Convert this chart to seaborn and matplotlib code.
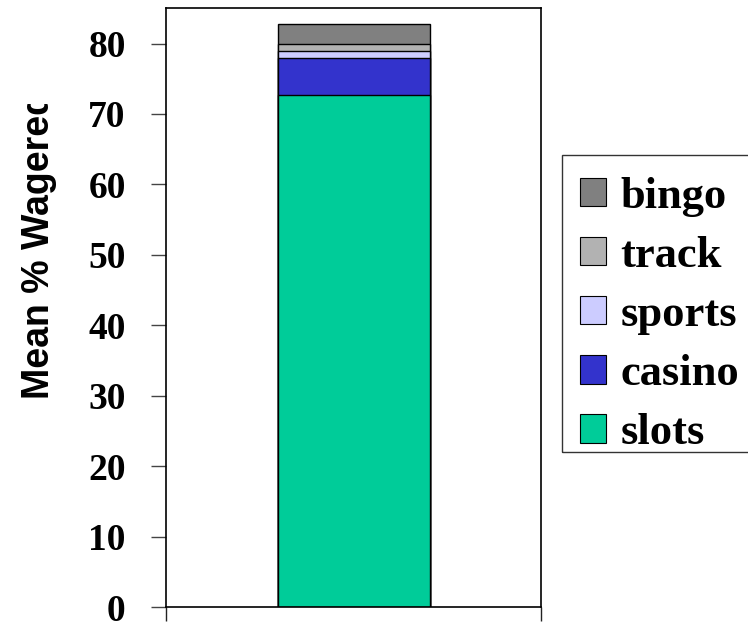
import matplotlib
matplotlib.use("Agg")
import matplotlib.pyplot as plt
import matplotlib.patches as mpatches
from matplotlib.transforms import Bbox, TransformedBbox
import numpy as np
import pandas as pd
import seaborn as sns

# Mean % wagered by gambling type
categories = ["slots", "casino", "sports", "track", "bingo"]
values = [72.7, 5.2, 1.0, 1.0, 2.9]
colors = ["#00cc99", "#3333cc", "#ccccff", "#b2b2b2", "#808080"]
yticks = [0, 10, 20, 30, 40, 50, 60, 70, 80]

sns.set_style("white")

fig = plt.figure(figsize=(7.48, 6.28), dpi=100)
ax = fig.add_axes([0.2219, 0.0334, 0.5020, 0.9534])

# stacked bar: draw cumulative totals from the top down so each layer shows
cum = np.cumsum(values)
for i in reversed(range(len(categories))):
    df = pd.DataFrame({"group": ["all"], "total": [cum[i]]})
    sns.barplot(data=df, x="group", y="total", color=colors[i], width=0.405,
                edgecolor="black", linewidth=1.0, saturation=1, ax=ax)

ax.set_xlim(-0.5, 0.5)
ax.set_ylim(0, 85)
ax.set_xticks([-0.5, 0.5])
ax.set_xticklabels(["", ""])
ax.set_xlabel("")
ax.set_yticks(yticks)
ax.set_yticklabels([str(t) for t in yticks], fontfamily="Liberation Serif",
                   fontweight="bold", fontsize=27, color="black")
ax.tick_params(axis="y", direction="out", length=11, width=1.0, color="#444444",
               pad=18, left=True)
ax.tick_params(axis="x", direction="out", length=10, width=1.0, color="#222222",
               bottom=True)
for s in ax.spines.values():
    s.set_visible(True)
    s.set_color("black")
    s.set_linewidth(1.2)

ylab = ax.set_ylabel("Mean % Wagered", fontfamily="Liberation Sans",
                     fontweight="bold", fontsize=27, color="black")
ax.yaxis.set_label_coords(-0.29, 0.603)
# the original label box cuts off the end of the text
ylab.set_clip_box(TransformedBbox(Bbox([[0, 0], [0.2, 1 - 104 / 628]]),
                                  fig.transFigure))
ylab.set_clip_on(True)

handles = [mpatches.Patch(facecolor=colors[i], edgecolor="black", linewidth=0.8,
                          label=categories[i])
           for i in reversed(range(len(categories)))]
leg = fig.legend(handles=handles, loc="upper left", bbox_to_anchor=(0.7513, 0.7468),
                 prop={"family": "Liberation Serif", "weight": "bold", "size": 32},
                 frameon=False, handlelength=0.6, handleheight=0.6,
                 handletextpad=0.32, labelspacing=0.43, borderpad=0.4,
                 borderaxespad=0)
for t in leg.get_texts():
    t.set_color("black")
# legend box (runs off the right edge like the original)
fig.add_artist(mpatches.Rectangle((562 / 748, 1 - 452 / 628), 0.3, 297 / 628,
                                  transform=fig.transFigure, fill=False,
                                  edgecolor="#333333", linewidth=1.0))

fig.savefig("out.png", dpi=100)
